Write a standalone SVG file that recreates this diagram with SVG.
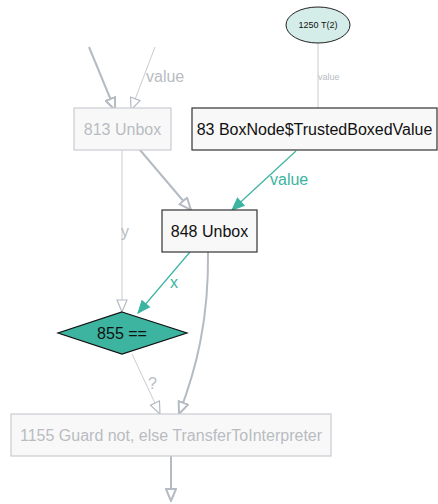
<svg xmlns="http://www.w3.org/2000/svg" width="438" height="504" viewBox="0 0 438 504">
<style>
.box{fill:#f8f8f8;stroke:#333;stroke-width:1.2}
.fbox{fill:#f8f8f8;stroke:#c8ccd2;stroke-width:1.2}
.t{font-family:"Liberation Sans",Arial,sans-serif;font-size:16px;fill:#111;text-anchor:middle;dominant-baseline:central}
.ft{font-family:"Liberation Sans",Arial,sans-serif;font-size:16px;fill:#b8bcc2;text-anchor:middle;dominant-baseline:central}
.gl{fill:none;stroke:#c8ccd2;stroke-width:1}
.gt{fill:none;stroke:#b4bbc3;stroke-width:2}
.te{fill:none;stroke:#3cb4a0;stroke-width:1.2}
.lbl{font-family:"Liberation Sans",Arial,sans-serif;font-size:16px;fill:#b8bcc2}
.tl{font-family:"Liberation Sans",Arial,sans-serif;font-size:16px;fill:#3cb4a0}
</style>
<defs>
<marker id="ho" markerUnits="userSpaceOnUse" markerWidth="14" markerHeight="12" viewBox="0 0 14 12" refX="13" refY="6" orient="auto">
<path d="M1,1 L13,6 L1,11 Z" fill="#fff" stroke="#b4bbc3" stroke-width="1.2"/>
</marker>
<marker id="hot" markerUnits="userSpaceOnUse" markerWidth="14" markerHeight="12" viewBox="0 0 14 12" refX="13" refY="6" orient="auto">
<path d="M1,1 L13,6 L1,11 Z" fill="#fff" stroke="#b4bbc3" stroke-width="2"/>
</marker>
<marker id="tf" markerUnits="userSpaceOnUse" markerWidth="14" markerHeight="12" viewBox="0 0 14 12" refX="13" refY="6" orient="auto">
<path d="M1,1 L13,6 L1,11 Z" fill="#3cb4a0" stroke="#3cb4a0" stroke-width="1"/>
</marker>
</defs>
<g id="edges">
<path class="gt" d="M89,47 L115,110" marker-end="url(#hot)"/>
<path class="gl" d="M155,47 L131,110" marker-end="url(#ho)"/>
<text class="lbl" x="146" y="82">value</text>
<path class="gl" d="M318,43 L318,108"/>
<text x="318" y="80" style="font-family:'Liberation Sans',Arial,sans-serif;font-size:9px;fill:#b8bcc2">value</text>
<path class="gt" d="M140,150 L191,210" marker-end="url(#hot)"/>
<path class="te" d="M296,151 L232,210" marker-end="url(#tf)"/>
<text class="tl" x="270" y="185">value</text>
<path class="gl" d="M122,150 L122,312" marker-end="url(#ho)"/>
<text class="lbl" x="121" y="237">y</text>
<path class="te" d="M190,252 L138,313" marker-end="url(#tf)"/>
<text class="tl" x="170" y="288">x</text>
<path class="gt" d="M208,252 C209,320 196,370 179,414" marker-end="url(#hot)"/>
<path class="gl" d="M132,354 L160,414" marker-end="url(#ho)"/>
<text class="lbl" x="148" y="389">?</text>
<path class="gt" d="M171,456 L171,501" marker-end="url(#hot)"/>
</g>
<g id="n1250">
<ellipse cx="318" cy="25" rx="32" ry="18" fill="#d5ede8" stroke="#222" stroke-width="1"/>
<text class="t" x="318" y="25" style="font-size:9px">1250 T(2)</text>
</g>
<g id="n813">
<rect class="fbox" x="74" y="108" width="97" height="42"/>
<text class="ft" x="122.5" y="129">813 Unbox</text>
</g>
<g id="n83">
<rect class="box" x="192" y="108" width="245" height="42"/>
<text class="t" x="314.5" y="129">83 BoxNode$TrustedBoxedValue</text>
</g>
<g id="n848">
<rect class="box" x="162" y="210" width="95" height="42"/>
<text class="t" x="209.5" y="231">848 Unbox</text>
</g>
<g id="n855">
<polygon points="122,312 187,333 122,354 58,333" fill="#3cb4a0" stroke="#111" stroke-width="1.2"/>
<text class="t" x="122" y="333">855 ==</text>
</g>
<g id="n1155">
<rect class="fbox" x="11" y="414" width="320" height="42"/>
<text class="ft" x="171" y="435">1155 Guard not, else TransferToInterpreter</text>
</g>
</svg>
